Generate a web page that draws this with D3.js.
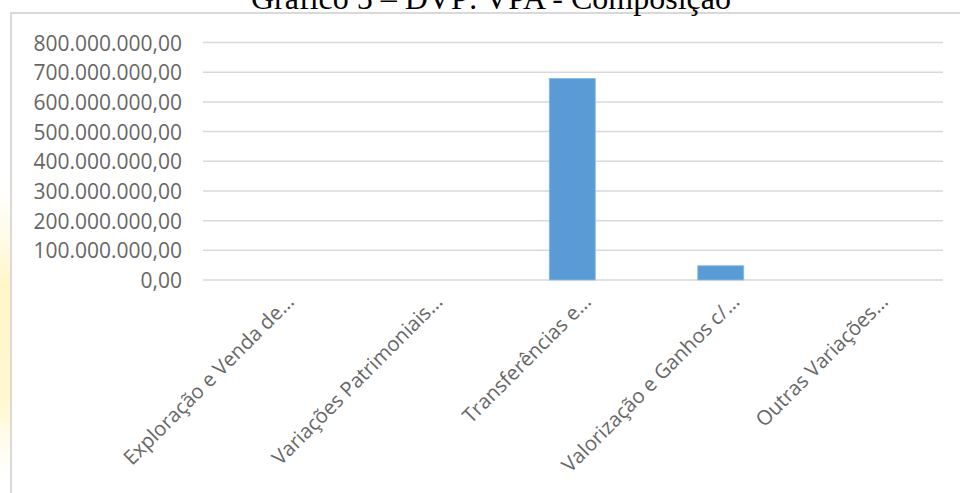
<!DOCTYPE html>
<html><head><meta charset="utf-8">
<script src="https://cdn.jsdelivr.net/npm/d3@7"></script>
<style>body{margin:0;background:#fff;}svg{display:block;}</style>
</head><body>
<svg id="c" width="960" height="493"></svg>
<script>
const titleText = "Gráfico 5 – DVP: VPA - Composição";
const categories = ["Exploração e Venda de...", "Variações Patrimoniais...", "Transferências e...", "Valorização e Ganhos c/...", "Outras Variações..."];
const values = [0, 0, 679000000, 48000000, 0];
const yTicks = [0, 100000000, 200000000, 300000000, 400000000, 500000000, 600000000, 700000000, 800000000];

const svg = d3.select("#c");
const W = 960, H = 493;
const m = {left: 201, right: 16.5, top: 42.5, bottom: 213};

// yellow watermark strip
const defs = svg.append("defs");
const g1 = defs.append("linearGradient").attr("id","yel").attr("x1",0).attr("x2",0).attr("y1",0).attr("y2",1);
g1.append("stop").attr("offset","0%").attr("stop-color","#fffbe0").attr("stop-opacity",0);
g1.append("stop").attr("offset","35%").attr("stop-color","#fff6c8").attr("stop-opacity",1);
g1.append("stop").attr("offset","75%").attr("stop-color","#fff8d0").attr("stop-opacity",1);
g1.append("stop").attr("offset","100%").attr("stop-color","#fffbe8").attr("stop-opacity",0);
svg.append("rect").attr("x",0).attr("y",180).attr("width",10).attr("height",300).attr("fill","url(#yel)");

// frame
svg.append("rect").attr("x",11).attr("y",13).attr("width",W+10).attr("height",H+10)
  .attr("fill","none").attr("stroke","#d9d9d9").attr("stroke-width",2);

// title
svg.append("text").attr("x",491).attr("y",9).attr("text-anchor","middle")
  .attr("font-family","Liberation Serif, Times New Roman, serif").attr("font-size",32)
  .attr("fill","#000").text(titleText);

const x = d3.scaleBand().domain(categories).range([m.left, W - m.right]).paddingInner(0.69).paddingOuter(0.345);
const y = d3.scaleLinear().domain([0, 800000000]).range([H - m.bottom, m.top]);

const fmt = v => {
  const s = d3.format(",.2f")(v);
  return s.replace(/,/g,"#").replace(/\./g,",").replace(/#/g,".");
};

// gridlines
svg.append("g").selectAll("line").data(yTicks).join("line")
  .attr("x1", 203).attr("x2", 943)
  .attr("y1", d => y(d)).attr("y2", d => y(d))
  .attr("stroke","#d9d9d9").attr("stroke-width",1.5);

// y labels
const yAxis = d3.axisLeft(y).tickValues(yTicks).tickFormat(fmt).tickSize(0).tickPadding(0);
const ya = svg.append("g").attr("transform","translate(182,0)").call(yAxis);
ya.select(".domain").remove();
ya.selectAll("text").attr("font-family","Open Sans, sans-serif").attr("font-size",21).attr("fill","#666").attr("dy","0.36em");

// bars
svg.append("g").selectAll("rect").data(values).join("rect")
  .attr("x",(d,i)=>x(categories[i])).attr("width",x.bandwidth())
  .attr("y",d=>y(d)).attr("height",d=>y(0)-y(d))
  .attr("fill","#5b9bd5").attr("stroke","#8fbbe6").attr("stroke-width",0.8);

// x labels
const xAxis = d3.axisBottom(x).tickSize(0).tickPadding(0);
const xa = svg.append("g").attr("transform",`translate(0,${y(0)})`).call(xAxis);
xa.select(".domain").remove();
xa.selectAll("text")
  .attr("font-family","Open Sans, sans-serif").attr("font-size",20.3).attr("fill","#666")
  .attr("text-anchor","end").attr("dy",0).attr("y",0)
  .attr("transform",function(){ return "translate(20,23) rotate(-45)"; });
</script>
</body></html>
